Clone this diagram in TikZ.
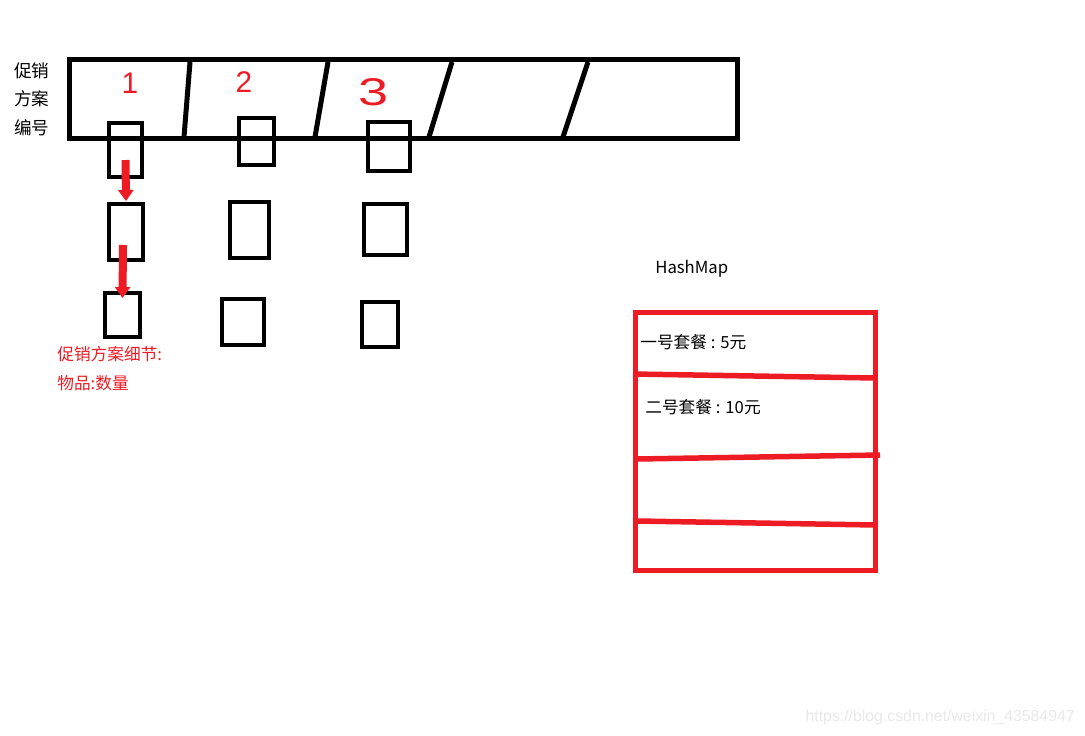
\documentclass[tikz,border=0pt]{standalone}
\usepackage{fontspec}
\setmainfont{Noto Sans CJK SC}
\newfontfamily\digitfont{Liberation Sans}
\newfontfamily\markfont{Liberation Sans}
\usetikzlibrary{arrows.meta}
\definecolor{paintred}{HTML}{ED1C24}
\tikzset{
  cell/.style={draw=black, line width=0.08cm, inner sep=0pt},
  digit/.style={text=paintred, font=\digitfont\fontsize{17}{17}\selectfont, inner sep=0pt},
  redarrow/.style={draw=paintred, line width=0.16cm, -{Triangle[width=0.3cm, length=0.22cm]}},
  redline/.style={draw=paintred, line width=0.11cm},
  label/.style={font=\fontsize{9.5}{11}\selectfont, anchor=west, inner sep=0pt}
}
\begin{document}
\begin{tikzpicture}[x=0.02cm, y=-0.02cm]
  \useasboundingbox (0,0) rectangle (1085,735);

  \node[draw=black, line width=0.1cm, minimum width=13.38cm, minimum height=1.58cm, inner sep=0pt] (bar) at (403.5, 99) {};
  \draw[line width=0.1cm] (190, 62) -- (184, 137);
  \draw[line width=0.1cm] (328, 62) -- (315, 137);
  \draw[line width=0.1cm] (452, 62) -- (429, 137);
  \draw[line width=0.1cm] (588, 62) -- (563, 137);

  \node[digit] (one) at (130, 83) {1};
  \node[digit] (two) at (244, 82) {2};
  \node[digit, font=\digitfont\fontsize{22}{22}\selectfont, xscale=1.4] (three) at (374, 92) {3};

  \node[font=\fontsize{10}{16.3}\selectfont, align=left, anchor=west, inner sep=0pt] (title) at (14, 99) {促销\\方案\\编号};

  \node[cell, minimum width=0.66cm, minimum height=1.08cm] (c1r1) at (125.5, 150) {};
  \node[cell, minimum width=0.70cm, minimum height=0.94cm] (c2r1) at (256.5, 141.5) {};
  \node[cell, minimum width=0.84cm, minimum height=0.98cm] (c3r1) at (389, 146.5) {};
  \node[cell, minimum width=0.68cm, minimum height=1.12cm] (c1r2) at (126, 232) {};
  \node[cell, minimum width=0.78cm, minimum height=1.12cm] (c2r2) at (249.5, 230) {};
  \node[cell, minimum width=0.86cm, minimum height=1.02cm] (c3r2) at (385.5, 229.5) {};
  \node[cell, minimum width=0.70cm, minimum height=0.88cm] (c1r3) at (122.5, 315) {};
  \node[cell, minimum width=0.84cm, minimum height=0.92cm] (c2r3) at (243, 322) {};
  \node[cell, minimum width=0.72cm, minimum height=0.90cm] (c3r3) at (380, 324.5) {};

  \draw[redarrow] ([yshift=-0.2cm]c1r1.center) -- ([yshift=0.02cm]c1r2.north);
  \draw[redarrow] ([xshift=-0.06cm, yshift=-0.26cm]c1r2.center) -- ([yshift=-0.14cm]c1r3.north);

  \node[label, text=paintred] (detail) at (57, 354) {促销方案细节:};
  \node[label, text=paintred] (item) at (57, 383) {物品:数量};

  \node[label] (hm) at (655, 269) {HashMap};
  \node[draw=paintred, line width=0.1cm, minimum width=4.80cm, minimum height=5.16cm, inner sep=0pt] (map) at (755.5, 441.5) {};
  \draw[redline] (633, 374) -- (876, 378);
  \draw[redline] (637, 459) -- (880, 455);
  \draw[redline] (637, 521) -- (876, 525);

  \node[label] (set1) at (640, 342) {一号套餐 : 5元};
  \node[label] (set2) at (645, 407) {二号套餐 : 10元};

  \node[font=\markfont\fontsize{9}{9}\selectfont, text=black!9, anchor=east, inner sep=0pt] (mark) at (1075, 717) {https://blog.csdn.net/weixin\_43584947};
\end{tikzpicture}
\end{document}
